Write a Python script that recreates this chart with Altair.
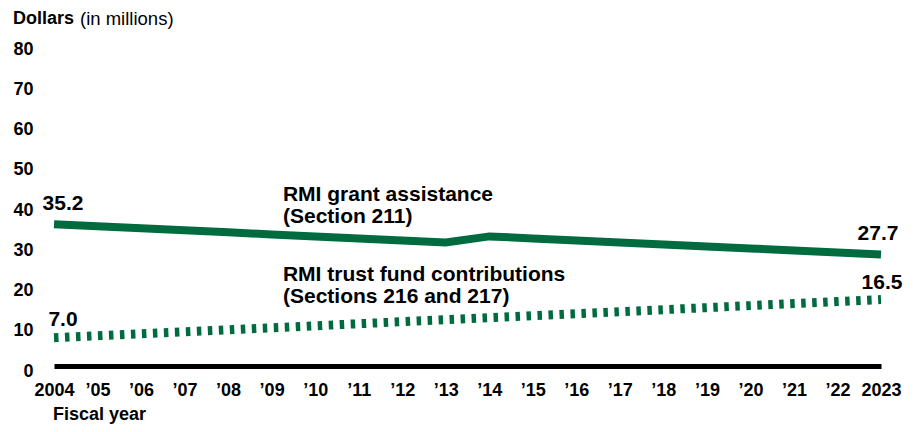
import json
import altair as alt
import pandas as pd

years = list(range(2004, 2024))
grant = [35.2, 34.7, 34.2, 33.7, 33.2, 32.7, 32.2, 31.7, 31.2, 30.7,
         32.2, 31.7, 31.2, 30.7, 30.2, 29.7, 29.2, 28.7, 28.2, 27.7]
trust = [7.0, 7.5, 8.0, 8.5, 9.0, 9.5, 10.0, 10.5, 11.0, 11.5,
         12.0, 12.5, 13.0, 13.5, 14.0, 14.5, 15.0, 15.5, 16.0, 16.5]
tick_labels = ["2004", "’05", "’06", "’07", "’08", "’09", "’10", "’11", "’12", "’13",
               "’14", "’15", "’16", "’17", "’18", "’19", "’20", "’21", "’22", "2023"]
y_ticks = [0, 10, 20, 30, 40, 50, 60, 70, 80]
grant_label = ["RMI grant assistance", "(Section 211)"]
trust_label = ["RMI trust fund contributions", "(Sections 216 and 217)"]

GREEN = "#006B3F"
FONT = "Liberation Sans"

df_grant = pd.DataFrame({"year": years, "value": grant})
df_trust = pd.DataFrame({"year": years, "value": trust})

label_expr = json.dumps(tick_labels) + "[round(datum.value) - 2004]"

x_enc = alt.X("year:Q",
              scale=alt.Scale(domain=[years[0], years[-1]], nice=False, zero=False),
              axis=alt.Axis(values=years, labelExpr=label_expr, title=None,
                            grid=False, ticks=False, domain=True,
                            domainColor="black", domainWidth=5,
                            labelFont=FONT, labelFontSize=18, labelFontWeight="bold",
                            labelColor="black", labelPadding=15,
                            labelFlush=False, labelOverlap=False))
y_enc = alt.Y("value:Q",
              scale=alt.Scale(domain=[0, 80], nice=False),
              axis=alt.Axis(values=y_ticks, title=None, grid=False, ticks=False,
                            domain=False, labelFont=FONT, labelFontSize=18,
                            labelFontWeight="bold", labelColor="black",
                            labelPadding=21, labelOffset=5))

grant_line = alt.Chart(df_grant).mark_line(
    color=GREEN, strokeWidth=8, strokeCap="butt", strokeJoin="miter"
).encode(x=x_enc, y=y_enc)

trust_line = alt.Chart(df_trust).mark_line(
    color=GREEN, strokeWidth=9, strokeDash=[4.5, 6.5], strokeCap="butt"
).encode(x="year:Q", y="value:Q")

txt = dict(font=FONT, fontSize=21, fontWeight="bold", color="black")

def value_label(df, idx, dx, dy):
    row = df.iloc[[idx]]
    return alt.Chart(row).mark_text(dx=dx, dy=dy, align="center", baseline="middle", **txt).encode(
        x="year:Q", y="value:Q", text=alt.Text("value:Q", format=".1f"))

labels = [
    value_label(df_grant, 0, 9, -20),
    value_label(df_grant, -1, -3, -21),
    value_label(df_trust, 0, 9, -18),
    value_label(df_trust, -1, 1, -17),
]

def note(text, xv, yv):
    return alt.Chart(df_grant.iloc[[0]]).mark_text(align="left", baseline="middle", **txt).encode(
        x=alt.datum(xv), y=alt.datum(yv), text=alt.value(text))

notes = [
    note(grant_label[0], 2009.26, 42.4),
    note(grant_label[1], 2009.26, 37.0),
    note(trust_label[0], 2009.26, 22.6),
    note(trust_label[1], 2009.26, 17.2),
]

def fixed_text(text, px, py, weight, size=18):
    return alt.Chart(df_grant.iloc[[0]]).mark_text(
        align="left", baseline="middle", font=FONT, fontSize=size,
        fontWeight=weight, color="black"
    ).encode(x=alt.value(px), y=alt.value(py), text=alt.value(text))

titles = [
    fixed_text("Dollars", -41, -25, "bold", 18),
    fixed_text("(in millions)", 26, -25, "normal", 18.5),
    fixed_text("Fiscal year", -1, 371, "bold", 18),
]

chart = alt.layer(grant_line, trust_line, *labels, *notes, *titles).properties(
    width=827, height=322,
    padding={"left": 46, "top": 36, "right": 26, "bottom": 58},
    autosize=alt.AutoSizeParams(type="none"),
    background="white",
).configure_view(stroke=None)

chart.save("out.html", embed_options={"renderer": "svg", "actions": False})
